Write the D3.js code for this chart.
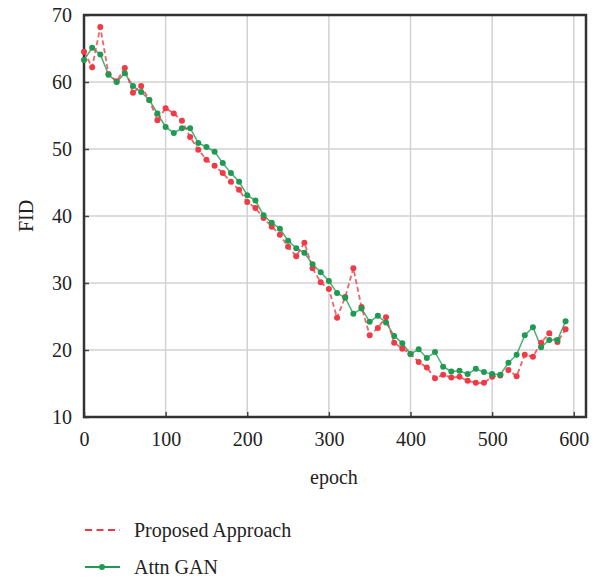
<!DOCTYPE html>
<html>
<head>
<meta charset="utf-8">
<script src="https://cdn.jsdelivr.net/npm/d3@7"></script>
<style>
  body { margin: 0; background: #fff; }
  text { font-family: "Liberation Serif", "DejaVu Serif", serif; fill: #222; }
</style>
</head>
<body>
<div id="chart"></div>
<script>
const epochs = d3.range(0, 600, 10)

const proposed = [
    64.5, 62.2, 68.2, 61.2, 60.1, 62.1, 58.4, 59.4, 57.3, 54.3,
    56.1, 55.3, 54.2, 51.8, 49.9, 48.4, 47.5, 46.4, 45.1, 43.9,
    42.1, 41.2, 39.7, 38.4, 37.2, 35.4, 34.0, 36.0, 32.2, 30.1,
    29.1, 24.8, 27.9, 32.2, 26.4, 22.2, 23.3, 24.9, 21.1, 20.2,
    19.4, 18.2, 17.4, 15.8, 16.3, 15.9, 16.0, 15.4, 15.1, 15.1,
    16.0, 16.2, 17.0, 16.1, 19.3, 19.0, 21.1, 22.5, 21.2, 23.1
]

const attnGan = [
    63.3, 65.1, 64.1, 61.1, 60.0, 61.3, 59.4, 58.5, 57.3, 55.3,
    53.3, 52.4, 53.1, 53.1, 50.9, 50.3, 49.6, 47.9, 46.4, 45.1,
    43.1, 42.3, 40.1, 39.0, 38.1, 36.3, 35.2, 34.5, 32.8, 31.6,
    30.3, 28.5, 27.8, 25.4, 26.2, 24.2, 25.1, 24.1, 22.1, 21.0,
    19.4, 20.1, 18.8, 19.7, 17.5, 16.8, 16.9, 16.4, 17.2, 16.7,
    16.4, 16.3, 18.1, 19.3, 22.2, 23.4, 20.4, 21.5, 21.5, 24.3
]

const xTicks = [0, 100, 200, 300, 400, 500, 600]
const yTicks = [10, 20, 30, 40, 50, 60, 70]
const seriesNames = ["Proposed Approach", "Attn GAN"]

const width = 600
const height = 580
const plotLeft = 84, plotRight = 586, plotTop = 15, plotBottom = 417

const red = "#ef3b46"
const green = "#1f9a52"

const svg = d3.select("#chart")
    .append("svg")
    .attr("width", width)
    .attr("height", height)

const x = d3.scaleLinear()
    .domain([0, 615])
    .range([plotLeft, plotRight])

const y = d3.scaleLinear()
    .domain([10, 70])
    .range([plotBottom, plotTop])

// Grid
svg.append("g")
    .selectAll("line")
    .data(xTicks.filter(d => d > 0))
    .enter()
    .append("line")
    .attr("x1", d => x(d)).attr("x2", d => x(d))
    .attr("y1", plotTop).attr("y2", plotBottom)
    .attr("stroke", "#d2d2d2")
    .attr("stroke-width", 1.5)

svg.append("g")
    .selectAll("line")
    .data(yTicks.filter(d => d > 10 && d < 70))
    .enter()
    .append("line")
    .attr("x1", plotLeft).attr("x2", plotRight)
    .attr("y1", d => y(d)).attr("y2", d => y(d))
    .attr("stroke", "#d2d2d2")
    .attr("stroke-width", 1.5)

// Axes
const xAxis = d3.axisBottom(x).tickValues(xTicks).tickSize(-5).tickPadding(15)
const yAxis = d3.axisLeft(y).tickValues(yTicks).tickSize(-5).tickPadding(12)

svg.append("g")
    .attr("transform", `translate(0, ${plotBottom})`)
    .call(xAxis)
    .call(g => g.select(".domain").remove())
    .call(g => g.selectAll("line").attr("stroke", "#444").attr("stroke-width", 1.5))
    .call(g => g.selectAll("text").style("font-size", "20px").attr("fill", "#222"))

svg.append("g")
    .attr("transform", `translate(${plotLeft}, 0)`)
    .call(yAxis)
    .call(g => g.select(".domain").remove())
    .call(g => g.selectAll("line").attr("stroke", "#444").attr("stroke-width", 1.5))
    .call(g => g.selectAll("text").style("font-size", "20px").attr("fill", "#222"))

// Frame
svg.append("rect")
    .attr("x", plotLeft).attr("y", plotTop)
    .attr("width", plotRight - plotLeft).attr("height", plotBottom - plotTop)
    .attr("fill", "none")
    .attr("stroke", "#333")
    .attr("stroke-width", 2.5)

// Lines
const line = d3.line()
    .x((d, i) => x(epochs[i]))
    .y(d => y(d))

svg.append("path")
    .datum(attnGan)
    .attr("fill", "none")
    .attr("stroke", green)
    .attr("stroke-width", 1.5)
    .attr("opacity", 0.8)
    .attr("d", line)

svg.append("path")
    .datum(proposed)
    .attr("fill", "none")
    .attr("stroke", red)
    .attr("stroke-width", 1.8)
    .attr("stroke-dasharray", "5,3")
    .attr("opacity", 0.8)
    .attr("d", line)

svg.append("g")
    .selectAll("circle")
    .data(proposed)
    .enter()
    .append("circle")
    .attr("cx", (d, i) => x(epochs[i]))
    .attr("cy", d => y(d))
    .attr("r", 3)
    .attr("fill", red)

svg.append("g")
    .selectAll("circle")
    .data(attnGan)
    .enter()
    .append("circle")
    .attr("cx", (d, i) => x(epochs[i]))
    .attr("cy", d => y(d))
    .attr("r", 3)
    .attr("fill", green)

// Axis titles
svg.append("text")
    .attr("x", 334)
    .attr("y", 484)
    .attr("text-anchor", "middle")
    .style("font-size", "20px")
    .text("epoch")

svg.append("text")
    .attr("transform", `translate(33, ${(plotTop + plotBottom) / 2}) rotate(-90)`)
    .attr("text-anchor", "middle")
    .style("font-size", "20px")
    .text("FID")

// Legend
const legend = svg.append("g")

legend.append("line")
    .attr("x1", 85).attr("x2", 120)
    .attr("y1", 530).attr("y2", 530)
    .attr("stroke", red)
    .attr("stroke-width", 2)
    .attr("stroke-dasharray", "7,4.5")

legend.append("text")
    .attr("x", 134).attr("y", 537)
    .style("font-size", "20px")
    .text(seriesNames[0])

legend.append("line")
    .attr("x1", 85).attr("x2", 120)
    .attr("y1", 567).attr("y2", 567)
    .attr("stroke", green)
    .attr("stroke-width", 2)

legend.append("circle")
    .attr("cx", 102).attr("cy", 567)
    .attr("r", 3)
    .attr("fill", green)

legend.append("text")
    .attr("x", 134).attr("y", 574)
    .style("font-size", "20px")
    .text(seriesNames[1])
</script>
</body>
</html>
